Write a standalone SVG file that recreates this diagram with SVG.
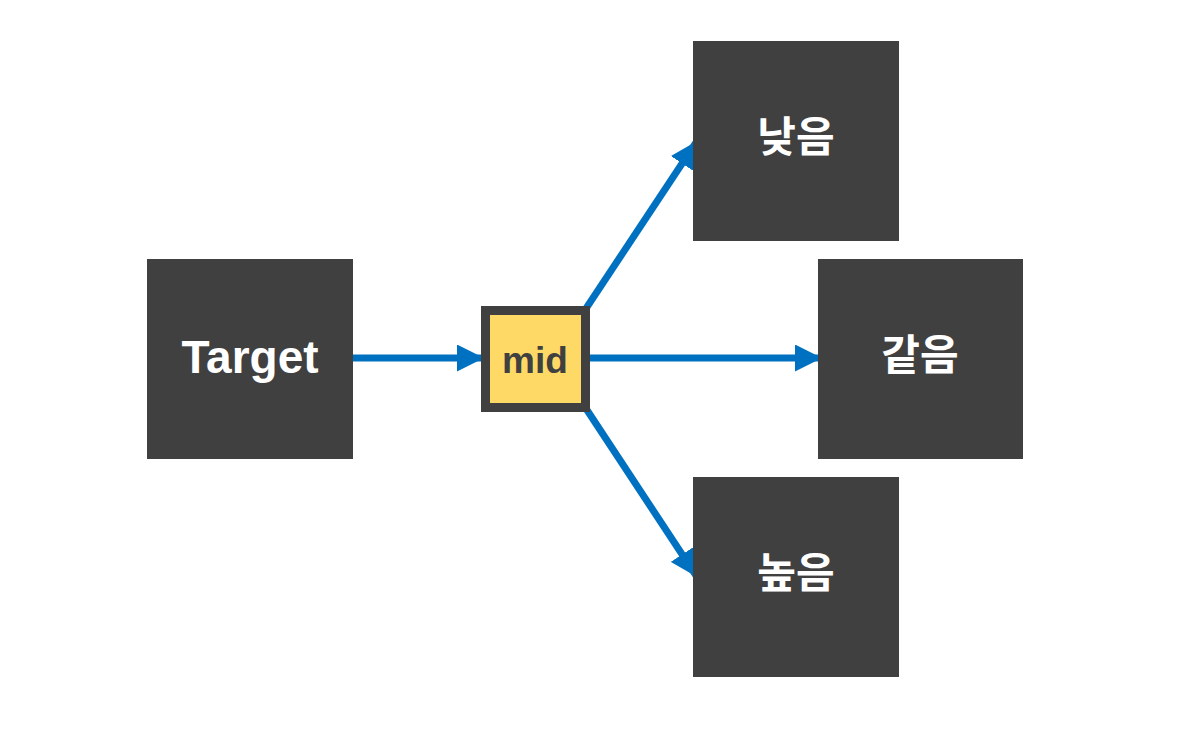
<svg xmlns="http://www.w3.org/2000/svg" width="1179" height="729" viewBox="0 0 1179 729">
<style>
.box{fill:#404040}
.lbl{font-family:"Liberation Sans","Noto Sans CJK KR",sans-serif;font-weight:bold;fill:#ffffff;text-anchor:middle}
.kr{font-family:"Noto Sans CJK KR",sans-serif;font-weight:bold;fill:#ffffff;text-anchor:middle;font-size:42px}
.edge{stroke:#0070C0;stroke-width:7;fill:none;marker-end:url(#ah)}
</style>
<defs>
<marker id="ah" markerUnits="userSpaceOnUse" markerWidth="27" markerHeight="27" viewBox="0 0 27 27" refX="27" refY="13.5" orient="auto">
<path d="M0,0 L27,13.5 L0,27 Z" fill="#0070C0"/>
</marker>
</defs>
<rect width="1179" height="729" fill="#ffffff"/>
<g id="connectors">
<line class="edge" x1="353" y1="358" x2="484" y2="358"/>
<line class="edge" x1="590" y1="358" x2="822" y2="358"/>
<line class="edge" x1="585" y1="310" x2="697" y2="141"/>
<line class="edge" x1="585" y1="407" x2="697" y2="577"/>
</g>
<g id="target">
<rect class="box" x="147" y="259" width="206" height="200"/>
<text class="lbl" x="250" y="373" font-size="46">Target</text>
</g>
<g id="mid">
<rect x="485.5" y="310.5" width="100" height="97" fill="#FFD966" stroke="#404040" stroke-width="9"/>
<text x="535" y="373" font-family="Liberation Sans, sans-serif" font-weight="bold" font-size="37" fill="#404040" text-anchor="middle">mid</text>
</g>
<g id="low">
<rect class="box" x="693" y="41" width="206" height="200"/>
<text class="kr" x="796" y="152">낮음</text>
</g>
<g id="equal">
<rect class="box" x="818" y="259" width="205" height="200"/>
<text class="kr" x="920" y="370">같음</text>
</g>
<g id="high">
<rect class="box" x="693" y="477" width="206" height="200"/>
<text class="kr" x="796" y="588">높음</text>
</g>
</svg>
